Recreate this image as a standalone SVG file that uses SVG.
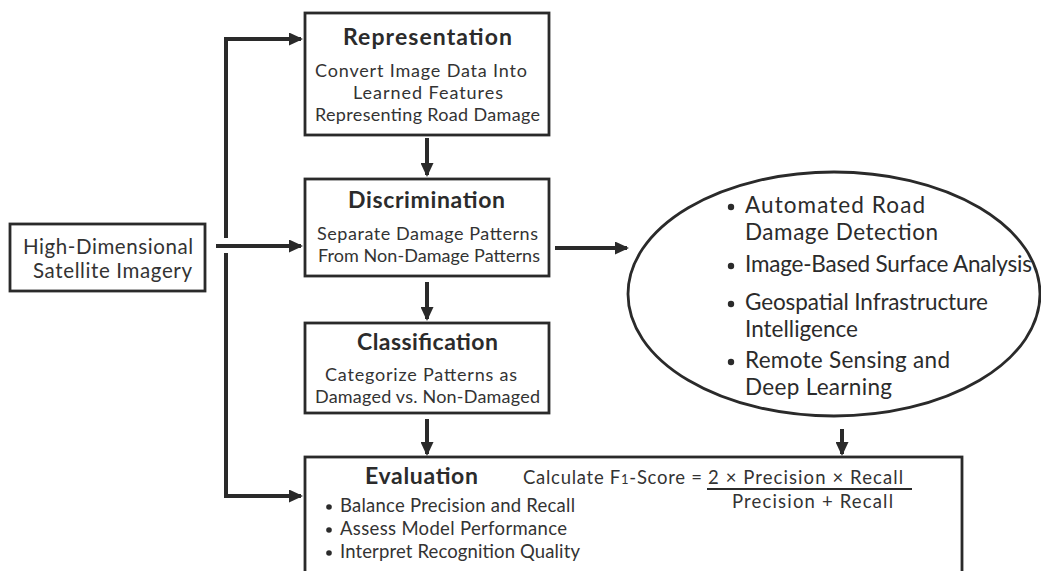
<svg xmlns="http://www.w3.org/2000/svg" width="1041" height="571" viewBox="0 0 1041 571">
  <defs>
    <marker id="arrow" markerWidth="14" markerHeight="13" refX="12" refY="6.5" orient="auto" markerUnits="userSpaceOnUse" viewBox="0 0 14 13">
      <path d="M0,0 L14,6.5 L0,13 z" fill="#2a2a2a"/>
    </marker>
    <style>
      .box { fill: #fff; stroke: #2a2a2a; stroke-width: 2.8; }
      .conn { fill: none; stroke: #2a2a2a; stroke-width: 4; }
      .arr { fill: none; stroke: #2a2a2a; stroke-width: 4; marker-end: url(#arrow); }
      text { font-family: Lato, "Liberation Sans", sans-serif; }
      .title { font-weight: bold; font-size: 23px; fill: #2b2b2b; text-anchor: middle; }
      .body { font-size: 18px; fill: #333; text-anchor: middle; }
      .src { font-size: 20.5px; fill: #333; text-anchor: middle; }
      .oval { font-size: 22.5px; fill: #2b2b2b; }
      .bul { font-size: 18.5px; fill: #333; }
      .dot { fill: #2b2b2b; }
    </style>
  </defs>
  <rect width="1041" height="571" fill="#fff"/>

  <g id="connectors">
    <!-- trunk from the source box, split around the middle feed -->
    <path class="conn" d="M226,238 V39"/>
    <path class="arr" d="M224,39 H301"/>
    <path class="conn" d="M226,253 V496"/>
    <path class="arr" d="M224,496 H301"/>
    <path class="arr" d="M216,246 H301"/>
    <!-- vertical chain -->
    <path class="arr" d="M427,138 V175"/>
    <path class="arr" d="M427,282 V319"/>
    <path class="arr" d="M427,419 V454"/>
    <!-- to and from the oval -->
    <path class="arr" d="M555,248 H627"/>
    <path class="arr" d="M842,429 V454"/>
  </g>

  <g id="source">
    <rect class="box" x="10" y="224" width="195" height="67"/>
    <text class="src" x="108" y="254" textLength="170">High-Dimensional</text>
    <text class="src" x="112.5" y="278" textLength="159">Satellite Imagery</text>
  </g>

  <g id="representation">
    <rect class="box" x="305" y="13" width="244" height="122"/>
    <text class="title" x="427.5" y="45" textLength="169">Representation</text>
    <text class="body" x="421" y="77" textLength="212">Convert Image Data Into</text>
    <text class="body" x="428" y="99" textLength="150">Learned Features</text>
    <text class="body" x="427.5" y="121" textLength="225">Representing Road Damage</text>
  </g>

  <g id="discrimination">
    <rect class="box" x="305" y="179" width="244" height="97"/>
    <text class="title" x="426.5" y="208" textLength="157">Discrimination</text>
    <text class="body" x="427.5" y="240" textLength="221">Separate Damage Patterns</text>
    <text class="body" x="429" y="262" textLength="222">From Non-Damage Patterns</text>
  </g>

  <g id="classification">
    <rect class="box" x="305" y="323" width="244" height="90"/>
    <text class="title" x="427.5" y="350" textLength="141">Classification</text>
    <text class="body" x="421" y="381" textLength="192">Categorize Patterns as</text>
    <text class="body" x="427.5" y="403" textLength="225">Damaged vs. Non-Damaged</text>
  </g>

  <g id="applications">
    <ellipse cx="834" cy="294" rx="206" ry="122" fill="#fff" stroke="#2a2a2a" stroke-width="2.8"/>
    <circle class="dot" cx="731" cy="207" r="3.2"/>
    <text class="oval" x="745" y="213" textLength="180">Automated Road</text>
    <text class="oval" x="745" y="240" textLength="193">Damage Detection</text>
    <circle class="dot" cx="731" cy="266" r="3.2"/>
    <text class="oval" x="745" y="272" textLength="287">Image-Based Surface Analysis</text>
    <circle class="dot" cx="731" cy="304" r="3.2"/>
    <text class="oval" x="745" y="310" textLength="243">Geospatial Infrastructure</text>
    <text class="oval" x="745" y="337" textLength="113">Intelligence</text>
    <circle class="dot" cx="731" cy="362" r="3.2"/>
    <text class="oval" x="745" y="368" textLength="205">Remote Sensing and</text>
    <text class="oval" x="745" y="395" textLength="147">Deep Learning</text>
  </g>

  <g id="evaluation">
    <rect class="box" x="305" y="457" width="657" height="130"/>
    <text class="title" x="421.5" y="484" textLength="113">Evaluation</text>
    <text class="bul" x="523" y="484" font-size="19" textLength="179">Calculate F<tspan font-size="13">1</tspan>-Score =</text>
    <text class="bul" x="708" y="484" font-size="20" textLength="195">2 × Precision × Recall</text>
    <line x1="707" y1="489" x2="912" y2="489" stroke="#2a2a2a" stroke-width="1.8"/>
    <text class="bul" x="732" y="508" font-size="19" textLength="161">Precision + Recall</text>
    <circle class="dot" cx="329" cy="507" r="2.8"/>
    <text class="bul" x="340" y="512" textLength="235">Balance Precision and Recall</text>
    <circle class="dot" cx="329" cy="530" r="2.8"/>
    <text class="bul" x="340" y="535" textLength="227">Assess Model Performance</text>
    <circle class="dot" cx="329" cy="553" r="2.8"/>
    <text class="bul" x="340" y="558" textLength="240">Interpret Recognition Quality</text>
  </g>
</svg>
